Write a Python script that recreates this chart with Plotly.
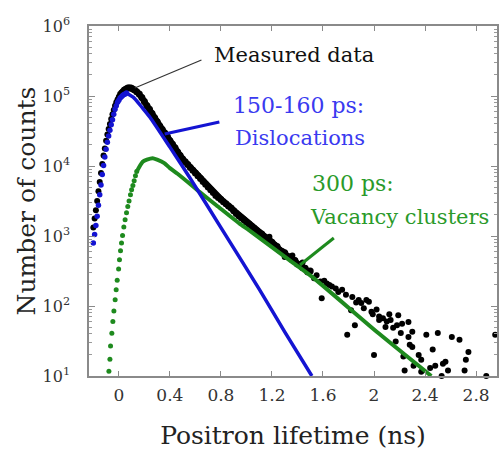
import plotly.graph_objects as go

# ---------------- data ----------------
# Measured data: rising edge (ns, counts)
meas_rise_t = [-0.20, -0.19, -0.18, -0.17, -0.16, -0.15, -0.14, -0.13, -0.12, -0.11,
               -0.10, -0.09, -0.08, -0.07, -0.06, -0.05, -0.04, -0.03, -0.02, -0.01,
               0.00, 0.01, 0.02, 0.03, 0.04, 0.05, 0.06, 0.07, 0.08, 0.09]
meas_rise_counts = [1320, 1780, 2340, 3160, 4370, 5890, 7940, 10700, 14100, 17800,
                    22900, 28200, 33900, 39800, 46800, 55000, 63100, 72400, 81300, 89100,
                    97700, 107000, 112000, 117000, 123000, 126000, 129000, 132000, 132000, 130000]

# Measured data: dense decay part
meas_decay_t = [0.09, 0.10, 0.12, 0.14, 0.16, 0.18, 0.20, 0.22, 0.24, 0.26, 0.28,
                0.30, 0.32, 0.34, 0.36, 0.38, 0.40, 0.42, 0.44, 0.46, 0.48,
                0.50, 0.52, 0.54, 0.56, 0.58, 0.60, 0.62, 0.64, 0.66, 0.68,
                0.70, 0.72, 0.74, 0.76, 0.78, 0.80, 0.82, 0.84, 0.86, 0.88,
                0.90, 0.92, 0.94, 0.96, 0.98, 1.00, 1.02, 1.04, 1.06, 1.08,
                1.10, 1.12, 1.14, 1.16, 1.18, 1.20, 1.22, 1.24, 1.26, 1.28,
                1.30, 1.32, 1.34, 1.36, 1.38, 1.40, 1.42, 1.44, 1.46, 1.48, 1.50]
meas_decay_counts = [130000, 129000, 123000, 115000, 107000, 95500, 83200, 72400, 64600, 56200, 49000,
                     42700, 37200, 33100, 29500, 26300, 22900, 20400, 18200, 15800, 14100,
                     12600, 11500, 10500, 9550, 8710, 7940, 7240, 6610, 6030, 5500,
                     5010, 4570, 4170, 3800, 3550, 3310, 3090, 2880, 2690, 2510,
                     2290, 2090, 1950, 1820, 1700, 1580, 1480, 1380, 1290, 1200,
                     1120, 1070, 977, 912, 871, 813, 741, 708, 631, 603,
                     575, 513, 501, 457, 447, 398, 389, 355, 347, 309, 316]

# Measured data: noisy tail
meas_tail_t = [1.18, 1.30, 1.36, 1.44, 1.53, 1.55, 1.58, 1.59, 1.61, 1.63,
               1.65, 1.67, 1.70, 1.72, 1.75, 1.78, 1.79, 1.82, 1.83, 1.85,
               1.86, 1.88, 1.90, 1.92, 1.94, 1.96, 1.98, 1.99, 2.00, 2.02,
               2.04, 2.04, 2.07, 2.09, 2.10, 2.12, 2.13, 2.15, 2.17, 2.18,
               2.19, 2.21, 2.22, 2.23, 2.24, 2.27, 2.27, 2.28, 2.30, 2.30,
               2.31, 2.35, 2.37, 2.37, 2.41, 2.44, 2.46, 2.48, 2.50, 2.53,
               2.54, 2.56, 2.58, 2.61, 2.67, 2.71, 2.72, 2.74, 2.88, 2.95]
meas_tail_counts = [977, 501, 525, 417, 250, 275, 224, 129, 229, 210,
                    200, 190, 178, 158, 170, 145, 39, 87, 135, 53,
                    112, 122, 110, 93, 122, 115, 83, 76, 20, 89,
                    63, 71, 67, 50, 60, 76, 63, 49, 31, 53,
                    74, 41, 56, 19, 12, 59, 36, 28, 43, 26,
                    14, 20, 17, 11.5, 39, 13, 24, 14, 41, 10,
                    15, 16, 12, 36, 33, 12, 17, 22, 10, 39]

# 150-160 ps component (dislocations)
disl_rise_t = [-0.20, -0.19, -0.18, -0.17, -0.16, -0.15, -0.14, -0.13, -0.12, -0.11,
               -0.10, -0.09, -0.08, -0.07, -0.06, -0.05, -0.04, -0.03, -0.02, -0.01,
               0.00, 0.01, 0.02, 0.03, 0.04, 0.05, 0.06]
disl_rise_counts = [794, 1050, 1410, 1910, 2750, 3890, 5370, 7590, 10200, 13500,
                    17400, 21900, 26900, 32400, 38900, 45700, 55000, 64600, 72400, 81300,
                    87100, 93300, 97700, 102000, 105000, 107000, 110000]
disl_decay_t = [0.06, 0.12, 0.18, 0.242, 0.40, 0.554, 0.80, 1.10, 1.30, 1.513]
disl_decay_counts = [110000, 93300, 69200, 50100, 18600, 6920, 1320, 174, 42.7, 10]

# 300 ps component (vacancy clusters)
vac_rise_t = [-0.078, -0.070, -0.065, -0.055, -0.047, -0.039, -0.029, -0.021, -0.013, -0.002,
              0.005, 0.013, 0.021, 0.029, 0.039, 0.049, 0.060, 0.070, 0.080, 0.091,
              0.10, 0.11, 0.12, 0.13, 0.14]
vac_rise_counts = [11.7, 17.4, 26.9, 40.7, 60.3, 85.1, 123, 170, 234, 339,
                   457, 617, 794, 1020, 1350, 1700, 2140, 2630, 3160, 3890,
                   4570, 5250, 6170, 7240, 8320]
vac_decay_t = [0.14, 0.187, 0.22, 0.265, 0.30, 0.356, 0.40, 0.46, 0.554, 0.632,
               0.764, 0.944, 1.022, 1.334, 1.513, 2.036, 2.449]
vac_decay_counts = [8320, 11500, 12300, 12900, 12300, 11000, 9330, 7760, 5620, 4270,
                    2750, 1510, 1200, 457, 263, 40.7, 10]

x_tickvals = [0, 0.4, 0.8, 1.2, 1.6, 2.0, 2.4, 2.8]
x_ticktext = ["0", "0.4", "0.8", "1.2", "1.6", "2", "2.4", "2.8"]
y_tickvals = [1e1, 1e2, 1e3, 1e4, 1e5, 1e6]
y_ticktext = ["10<sup>1</sup>", "10<sup>2</sup>", "10<sup>3</sup>",
              "10<sup>4</sup>", "10<sup>5</sup>", "10<sup>6</sup>"]

# ---------------- styles ----------------
FONT = "DejaVu Serif"
BLACK = "#000000"
BLUE = "#1414d2"
GREEN = "#1e8a1e"
BLUE_TXT = "#3a3af0"
GREEN_TXT = "#2a9a2a"

fig = go.Figure()

fig.add_trace(go.Scatter(x=meas_rise_t, y=meas_rise_counts, mode="markers",
                         marker=dict(color=BLACK, size=6, line=dict(width=0)), cliponaxis=False))
fig.add_trace(go.Scatter(x=meas_decay_t, y=meas_decay_counts, mode="lines+markers",
                         line=dict(color=BLACK, width=6),
                         marker=dict(color=BLACK, size=7, line=dict(width=0)), cliponaxis=False))
fig.add_trace(go.Scatter(x=meas_tail_t, y=meas_tail_counts, mode="markers",
                         marker=dict(color=BLACK, size=6, line=dict(width=0)), cliponaxis=False))

fig.add_trace(go.Scatter(x=vac_rise_t, y=vac_rise_counts, mode="markers",
                         marker=dict(color=GREEN, size=5, line=dict(width=0))))
fig.add_trace(go.Scatter(x=vac_decay_t, y=vac_decay_counts, mode="lines",
                         line=dict(color=GREEN, width=4, shape="spline", smoothing=0.6)))

fig.add_trace(go.Scatter(x=disl_rise_t, y=disl_rise_counts, mode="markers",
                         marker=dict(color=BLUE, size=5.5, line=dict(width=0))))
fig.add_trace(go.Scatter(x=disl_decay_t, y=disl_decay_counts, mode="lines",
                         line=dict(color=BLUE, width=3.5, shape="spline", smoothing=0.6)))

axis_common = dict(showline=True, linecolor="#8a8a8a", linewidth=1.5, mirror="ticks",
                   ticks="inside", tickcolor="#8a8a8a", showgrid=False, zeroline=False)

fig.update_xaxes(range=[-0.234, 2.964], tickvals=x_tickvals, ticktext=x_ticktext,
                 ticklen=5, tickwidth=1,
                 tickfont=dict(family=FONT, size=17, color="#333333"),
                 ticklabelstandoff=3,
                 title=dict(text="Positron lifetime (ns)", standoff=22,
                            font=dict(family=FONT, size=25, color="#222222")),
                 **axis_common)
fig.update_yaxes(type="log", range=[1, 6], tickvals=y_tickvals, ticktext=y_ticktext,
                 ticklen=6, tickwidth=1,
                 minor=dict(ticks="inside", ticklen=3, tickcolor="#9a9a9a", dtick="D1"),
                 tickfont=dict(family=FONT, size=16, color="#333333"),
                 ticklabelstandoff=14,
                 title=dict(text="Number of counts", standoff=0,
                            font=dict(family=FONT, size=25, color="#222222")),
                 **axis_common)

# leader lines (paper coords)
fig.add_shape(type="line", xref="paper", yref="paper", x0=0.2756, y0=0.9029, x1=0.1122, y1=0.8229,
              line=dict(color="#333333", width=1.2))
fig.add_shape(type="line", xref="paper", yref="paper", x0=0.3195, y0=0.7257, x1=0.1854, y1=0.6914,
              line=dict(color=BLUE, width=3))
fig.add_shape(type="line", xref="paper", yref="paper", x0=0.600, y0=0.3943, x1=0.5171, y1=0.3171,
              line=dict(color=GREEN, width=3))

def label(text, x, y, size, color):
    fig.add_annotation(text=text, xref="paper", yref="paper", x=x, y=y, showarrow=False,
                       xanchor="center", yanchor="middle",
                       font=dict(family=FONT, size=size, color=color))

label("Measured data", 0.5024, 0.917, 21, "#111111")
label("150-160 ps:", 0.5146, 0.774, 22, BLUE_TXT)
label("Dislocations", 0.518, 0.680, 21, BLUE_TXT)
label("300 ps:", 0.646, 0.551, 22, GREEN_TXT)
label("Vacancy clusters", 0.762, 0.454, 21, GREEN_TXT)

fig.update_layout(width=500, height=456, margin=dict(l=89, r=1, t=26, b=80),
                  plot_bgcolor="white", paper_bgcolor="white", showlegend=False)

fig.write_html("out.html")
